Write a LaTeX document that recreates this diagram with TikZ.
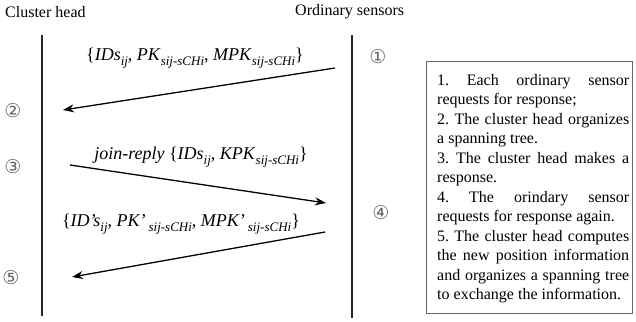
\documentclass[tikz,border=0pt]{standalone}
\usepackage{fontspec}
\setmainfont{Liberation Serif}
\newfontfamily\circfont{DejaVu Sans}
\usetikzlibrary{arrows.meta}
\newcommand\subi[1]{\raisebox{-0.25em}{\fontsize{13}{13}\selectfont\itshape #1}}
\frenchspacing
\begin{document}
\begin{tikzpicture}[x=1pt,y=-1pt,
  hdr/.style={font=\fontsize{16}{18}\selectfont, anchor=west, inner sep=0},
  lifeline/.style={line width=1.4pt, black!85},
  msg/.style={line width=1.3pt, -{Stealth[length=11pt,width=8pt]}},
  lbl/.style={font=\fontsize{18}{20}\selectfont, inner sep=0},
  num/.style={font=\circfont\fontsize{19}{19}\selectfont, text=black!60, inner sep=0},
  legend/.style={draw=black!60, line width=0.9pt, minimum width=206pt, minimum height=252pt, anchor=north west, inner sep=0}
]
\useasboundingbox (0,0) rectangle (636,321);
% headers
\node[hdr] (chh) at (5,12) {Cluster head};
\node[hdr] (osh) at (295,12) {Ordinary sensors};
% lifelines
\coordinate (chtop) at (42,35);
\coordinate (chbot) at (42,316);
\coordinate (ostop) at (352,35);
\coordinate (osbot) at (352,318);
\draw[lifeline] (chtop) -- (chbot);
\draw[lifeline] (ostop) -- (osbot);
% message end points
\coordinate (m1s) at (335,68);
\coordinate (m1e) at (63,110);
\coordinate (m2s) at (70,165);
\coordinate (m2e) at (326,203);
\coordinate (m3s) at (325,232);
\coordinate (m3e) at (72,277);
\draw[msg] (m1s) -- (m1e);
\draw[msg] (m2s) -- (m2e);
\draw[msg] (m3s) -- (m3e);
% labels
\node[lbl] (l1) at (195,58) {\{\textit{IDs}\subi{ij}, \textit{PK}\subi{sij-sCHi}, \textit{MPK}\subi{sij-sCHi}\}};
\node[lbl] (l2) at (201,157) {\textit{join-reply} \{\textit{IDs}\subi{ij}, \textit{KPK}\subi{sij-sCHi}\}};
\node[lbl] (l3) at (181,224) {\{\textit{ID’s}\subi{ij}, \textit{PK’}\,\subi{sij-sCHi}, \textit{MPK’}\,\subi{sij-sCHi}\}};
% step numbers
\node[num] (n1) at (378,57) {①};
\node[num] (n2) at (13,111) {②};
\node[num] (n3) at (13,167) {③};
\node[num] (n4) at (381,213) {④};
\node[num] (n5) at (11,278) {⑤};
% legend box
\node[legend] (box) at (426,61) {};
\node[text width=192pt, align=justify, anchor=north west, inner sep=0,
      font=\fontsize{16}{19.5}\selectfont] (boxtext) at (437,74) {%
1. Each ordinary sensor\linebreak requests for response;\par
2. The cluster head organizes\linebreak a spanning tree.\par
3. The cluster head makes a\linebreak response.\par
4. The orindary sensor\linebreak requests for response again.\par
5. The cluster head computes\linebreak the new position information\linebreak and organizes a spanning tree\linebreak to exchange the information.};
\end{tikzpicture}
\end{document}
